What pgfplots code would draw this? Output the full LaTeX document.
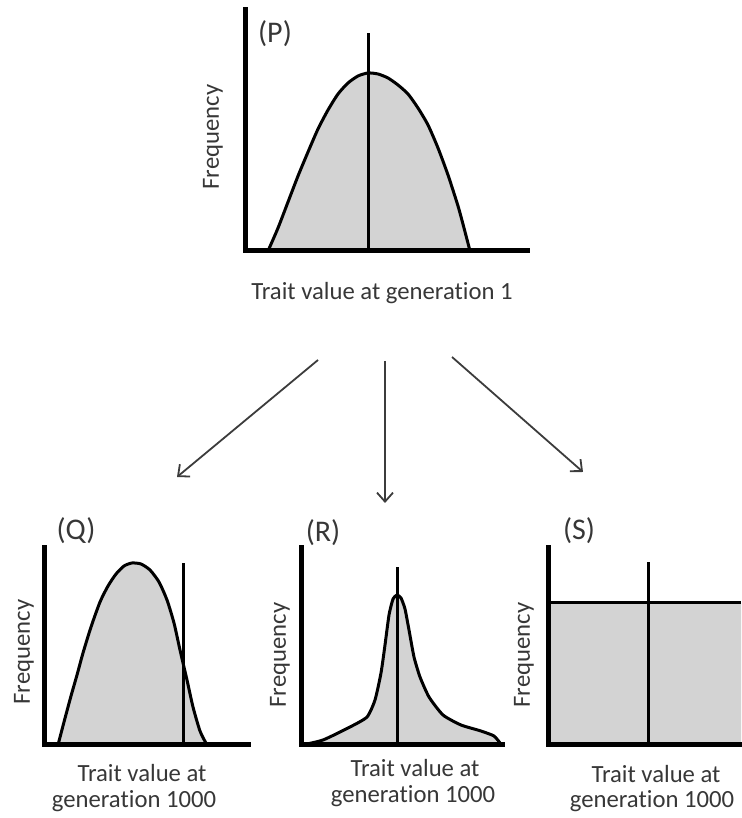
\documentclass[border=0pt]{standalone}
\usepackage{pgfplots}
\pgfplotsset{compat=1.18}
\usepackage{fontspec}
\setmainfont{Carlito}[Ligatures={NoCommon}]
\usetikzlibrary{arrows.meta}
\definecolor{fillgray}{RGB}{211,211,211}
\definecolor{txt}{RGB}{55,55,55}
\definecolor{arrowgray}{RGB}{60,60,60}
\pgfplotsset{
  panel/.style={
    scale only axis, axis lines=left, axis line style={-, line width=5pt, black, line cap=rect},
    ticks=none, axis on top, clip=false, anchor=south west,
  },
  curve/.style={draw=black, line width=3pt, fill=fillgray, smooth, tension=0.4, mark=none},
  vline/.style={draw=black, line width=3pt, mark=none},
}
\begin{document}
\begin{tikzpicture}[x=1pt,y=1pt]
\useasboundingbox (0,0) rectangle (741,818);
\fontsize{24.7}{29}\selectfont

% ---- P ----
\begin{axis}[panel, at={(245,567)}, width=282pt, height=241pt,
  xmin=0, xmax=282, ymin=0, ymax=241]
\addplot[curve] coordinates {(23,0) (33,23) (43,49) (53,75) (63,99) (73,122) (83,141) (93,157) (103,168) (113,175) (123,178) (133,177) (143,173) (153,166) (163,157) (173,143) (183,126) (193,103) (203,76) (213,45) (219,23) (225,0)} \closedcycle;
\addplot[vline] coordinates {(123,0) (123,218)};
\end{axis}

% ---- Q ----
\begin{axis}[panel, at={(44,73)}, width=204pt, height=197pt,
  xmin=0, xmax=204, ymin=0, ymax=197]
\addplot[curve] coordinates {(14,0) (20,23) (27,49) (33,70) (39,92) (47,118) (56,143) (64,159) (72,171) (80,179) (88,182) (97,181) (106,175) (115,163) (123,145) (130,122) (136,95) (143,65) (149,38) (156,14) (163,0)} \closedcycle;
\addplot[vline] coordinates {(139,0) (139,182)};
\end{axis}

% ---- R ----
\begin{axis}[panel, at={(301,73)}, width=201pt, height=197pt,
  xmin=0, xmax=201, ymin=0, ymax=197]
\addplot[curve, tension=0.35] coordinates {(1,0) (22,5) (49,18) (66,28) (74,45) (80,72) (84,100) (88,130) (92,146) (96,150) (100,147) (104,136) (108,115) (113,88) (119,68) (128,48) (142,30) (160,20) (180,14) (193,9) (199,2)} \closedcycle;
\addplot[vline] coordinates {(96,0) (96,178)};
\end{axis}

% ---- S ----
\begin{axis}[panel, at={(548,73)}, width=193pt, height=197pt,
  xmin=0, xmax=193, ymin=0, ymax=197]
\addplot[fill=fillgray, draw=none, mark=none] coordinates {(0,0) (0,142) (193,142) (193,0)} \closedcycle;
\addplot[vline] coordinates {(0,142) (193,142)};
\addplot[vline] coordinates {(100,0) (100,183)};
\end{axis}

% ---- labels ----
\begin{scope}[text=txt]
\begin{scope}[font=\fontsize{30}{34}\selectfont]
\node at (275,784) {(P)};
\node at (76,287) {(Q)};
\node at (323,285) {(R)};
\node at (579,287) {(S)};
\end{scope}
\node[rotate=90] at (213,681) {Frequency};
\node[rotate=90] at (24,166) {Frequency};
\node[rotate=90] at (280,163) {Frequency};
\node[rotate=90] at (524,163) {Frequency};
\node[anchor=base] at (382,518) {Trait value at generation 1};
\node[anchor=base] at (142,36) {Trait value at};
\node[anchor=base] at (134,10) {generation 1000};
\node[anchor=base] at (415,41) {Trait value at};
\node[anchor=base] at (413,16) {generation 1000};
\node[anchor=base] at (656,35) {Trait value at};
\node[anchor=base] at (652,10) {generation 1000};
\end{scope}

% ---- arrows ----
\begin{scope}[draw=arrowgray, line width=1.8pt, -{Straight Barb[length=9pt,width=16pt]}]
\draw (318,458) -- (177,341);
\draw (385,457) -- (385,315);
\draw (452,461) -- (583,346);
\end{scope}
\end{tikzpicture}
\end{document}
